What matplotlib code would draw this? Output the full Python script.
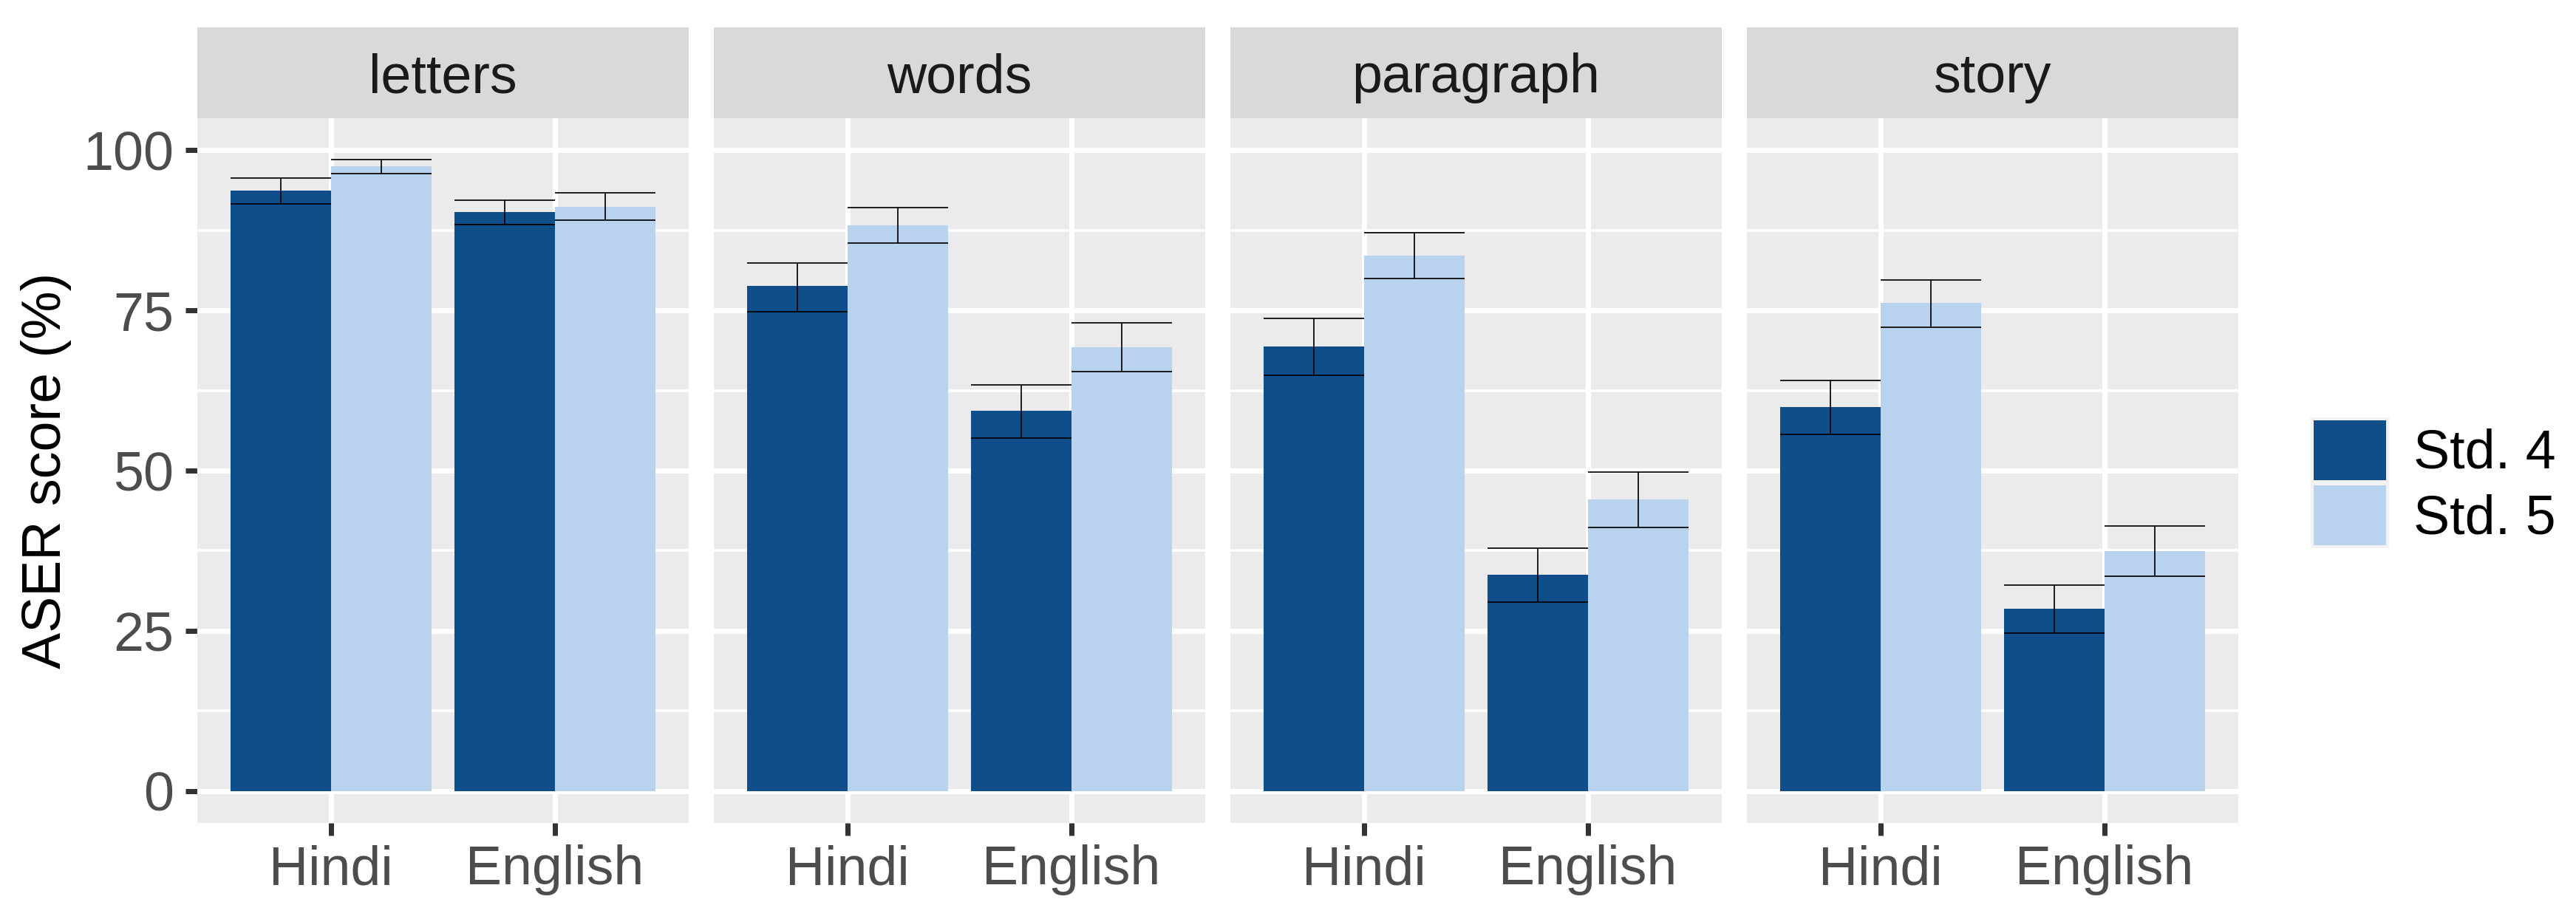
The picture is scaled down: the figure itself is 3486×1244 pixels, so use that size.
import matplotlib
matplotlib.use("Agg")
import matplotlib.pyplot as plt
from matplotlib.patches import Rectangle, Patch
import numpy as np

plt.rcParams['font.family'] = ['Liberation Sans', 'DejaVu Sans']

# ---- data ----
tasks = ['letters', 'words', 'paragraph', 'story']
languages = ['Hindi', 'English']
grades = ['Std. 4', 'Std. 5']

std4_mean = [[93.7, 90.4], [78.8, 59.3], [69.4, 33.7], [59.9, 28.4]]
std4_lo   = [[91.6, 88.4], [74.8, 55.1], [64.9, 29.5], [55.6, 24.6]]
std4_hi   = [[95.7, 92.2], [82.4, 63.4], [73.8, 37.9], [64.1, 32.1]]
std5_mean = [[97.5, 91.2], [88.3, 69.2], [83.6, 45.5], [76.2, 37.4]]
std5_lo   = [[96.3, 89.1], [85.5, 65.4], [80.0, 41.1], [72.4, 33.5]]
std5_hi   = [[98.6, 93.4], [91.1, 73.1], [87.1, 49.8], [79.8, 41.4]]

y_ticks = [0, 25, 50, 75, 100]
y_minor = [12.5, 37.5, 62.5, 87.5]

colors = ['#104E8B', '#B9D3EE']

W, H = 3487, 1244
DPI = 100
FS = 53
fig = plt.figure(figsize=(W / DPI, H / DPI), dpi=DPI)

panel_left = [267, 966, 1665, 2364]
panel_w = 665
panel_top, panel_bot = 160, 1114
strip_top = 37

means = [std4_mean, std5_mean]
los = [std4_lo, std5_lo]
his = [std4_hi, std5_hi]

px2pt = 72 / DPI
x = np.arange(len(languages)) + 1
bw = 0.45

for ti, task in enumerate(tasks):
    ax = fig.add_axes([panel_left[ti] / W, (H - panel_bot) / H,
                       panel_w / W, (panel_bot - panel_top) / H])
    ax.set_facecolor('#EBEBEB')
    for s in ax.spines.values():
        s.set_visible(False)
    ax.set_xlim(0.4, 2.6)
    ax.set_ylim(-5, 105)
    ax.set_axisbelow(True)
    # grid
    for yv in y_minor:
        ax.axhline(yv, color='white', lw=3.5 * px2pt, zorder=0.5)
    for yv in y_ticks:
        ax.axhline(yv, color='white', lw=7 * px2pt, zorder=0.6)
    for xv in x:
        ax.axvline(xv, color='white', lw=7 * px2pt, zorder=0.6)

    for gi in range(2):
        offs = -bw / 2 if gi == 0 else bw / 2
        m = np.array(means[gi][ti])
        lo = np.array(los[gi][ti])
        hi = np.array(his[gi][ti])
        ax.bar(x + offs, m, width=bw, color=colors[gi], zorder=2, linewidth=0)
    for gi in range(2):
        offs = -bw / 2 if gi == 0 else bw / 2
        lo = np.array(los[gi][ti])
        hi = np.array(his[gi][ti])
        xs = x + offs
        ax.vlines(xs, lo, hi, color='black', lw=1.7 * px2pt, zorder=3)
        ax.hlines(lo, xs - bw / 2, xs + bw / 2, color='black', lw=1.7 * px2pt, zorder=3)
        ax.hlines(hi, xs - bw / 2, xs + bw / 2, color='black', lw=1.7 * px2pt, zorder=3)

    ax.set_xticks(x)
    ax.set_xticklabels(languages)
    ax.tick_params(axis='x', length=17 * px2pt, width=7 * px2pt, color='#333333',
                   labelsize=FS, labelcolor='#4D4D4D', pad=12 * px2pt)
    ax.set_yticks(y_ticks)
    if ti == 0:
        ax.set_yticklabels([str(v) for v in y_ticks])
        ax.tick_params(axis='y', length=16 * px2pt, width=7 * px2pt, color='#333333',
                       labelsize=FS, labelcolor='#4D4D4D', pad=16 * px2pt)
        ax.set_ylabel('ASER score (%)', fontsize=FS, color='black')
        ax.yaxis.set_label_coords((97 - 267) / panel_w, 0.5)
    else:
        ax.tick_params(axis='y', length=0, labelleft=False)

    # strip
    sh = (panel_top - strip_top) / (panel_bot - panel_top)
    ax.add_patch(Rectangle((0, 1), 1, sh, transform=ax.transAxes, clip_on=False,
                           facecolor='#D9D9D9', edgecolor='none', zorder=1))
    ax.text(0.5, 1 + sh / 2, task, transform=ax.transAxes, ha='center', va='center_baseline',
            fontsize=FS, color='#1A1A1A')

handles = [Patch(facecolor=colors[i], edgecolor='#F2F2F2', linewidth=4 * px2pt) for i in range(2)]
fig.legend(handles, grades, loc='center left',
           bbox_to_anchor=(3129 / W, 1 - 653.5 / H), frameon=False,
           fontsize=FS, handlelength=102 / 73.6, handleheight=103 / 73.6,
           labelspacing=0.05, handletextpad=0.47, borderpad=0, borderaxespad=0)

fig.savefig('out.png', dpi=DPI)
